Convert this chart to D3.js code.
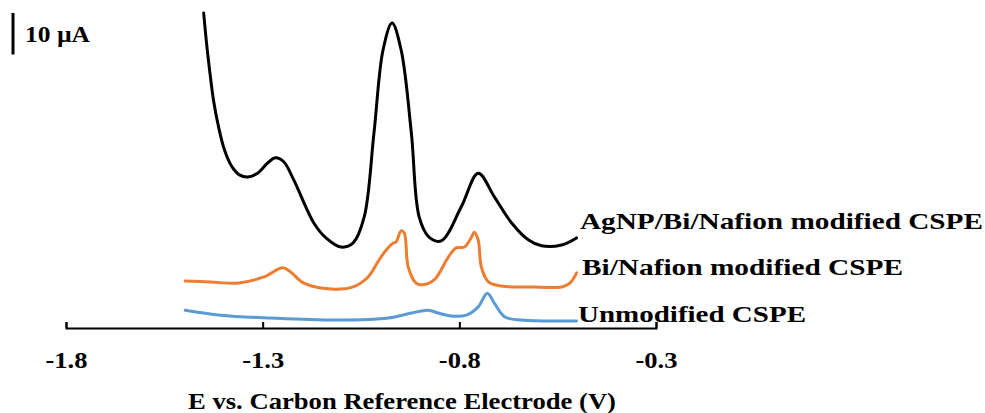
<!DOCTYPE html>
<html>
<head>
<meta charset="utf-8">
<script src="https://cdn.jsdelivr.net/npm/d3@7"></script>
<style>
  html, body { margin: 0; padding: 0; background: #fff; }
  svg text { font-family: "Liberation Serif", "Times New Roman", serif; font-weight: bold; fill: #000; }
</style>
</head>
<body>
<svg id="chart" width="985" height="413"></svg>
<script>
// Square-wave stripping voltammograms (current offset per electrode), potential in V
const agnpE = [-1.450, -1.443, -1.435, -1.425, -1.412, -1.397, -1.379, -1.359, -1.338, -1.313, -1.287, -1.267, -1.246, -1.221, -1.170, -1.139, -1.101, -1.070, -1.042, -1.017, -0.994, -0.971, -0.948, -0.922, -0.902, -0.877, -0.846, -0.795, -0.752, -0.711, -0.667, -0.624, -0.591, -0.540, -0.502];
const agnpI = [75.9, 68.9, 62.2, 54.9, 48.4, 42.9, 39.0, 36.9, 36.4, 37.3, 39.8, 41.0, 40.0, 35.7, 25.3, 21.7, 19.5, 20.5, 26.7, 47.0, 67.0, 73.5, 67.0, 47.0, 26.7, 21.9, 21.0, 29.2, 37.3, 31.6, 25.3, 21.2, 19.8, 20.0, 21.7];

const biE = [-1.497, -1.433, -1.364, -1.297, -1.249, -1.229, -1.195, -1.127, -1.070, -1.032, -1.004, -0.986, -0.968, -0.961, -0.948, -0.940, -0.930, -0.910, -0.897, -0.864, -0.828, -0.808, -0.787, -0.769, -0.762, -0.752, -0.744, -0.726, -0.693, -0.616, -0.540, -0.519, -0.502];
const biI = [11.3, 11.1, 10.8, 12.3, 14.5, 13.5, 10.8, 9.4, 9.9, 12.3, 16.4, 18.8, 20.5, 20.7, 23.4, 22.9, 14.7, 10.8, 10.4, 11.6, 17.1, 19.3, 19.5, 21.9, 23.1, 21.2, 14.7, 11.1, 10.1, 9.9, 9.9, 10.8, 13.3];

const bareE = [-1.497, -1.407, -1.280, -1.109, -0.981, -0.922, -0.879, -0.854, -0.820, -0.782, -0.752, -0.729, -0.711, -0.685, -0.642, -0.502];
const bareI = [4.3, 3.1, 2.4, 1.9, 2.4, 3.6, 4.3, 3.6, 2.9, 3.1, 5.1, 8.4, 6.0, 2.7, 1.9, 1.7];

const seriesNames = ["AgNP/Bi/Nafion modified CSPE", "Bi/Nafion modified CSPE", "Unmodified CSPE"];
const seriesColors = ["#000000", "#ED7D31", "#5B9BD5"];
const xTicks = [-1.8, -1.3, -0.8, -0.3];
const xTitle = "E vs. Carbon Reference Electrode (V)";
const scaleBarValue = 10; // µA
const scaleBarLabel = "10 µA";

const svg = d3.select("#chart");

const x = d3.scaleLinear().domain([-1.8, -0.3]).range([66, 656]);
const y = d3.scaleLinear().domain([0, 10]).range([328, 286.5]);

const series = [
  { name: seriesNames[0], color: seriesColors[0], pts: agnpE.map((e, i) => [e, agnpI[i]]), label: [580, 229], w: 403 },
  { name: seriesNames[1], color: seriesColors[1], pts: biE.map((e, i) => [e, biI[i]]), label: [582, 275], w: 321 },
  { name: seriesNames[2], color: seriesColors[2], pts: bareE.map((e, i) => [e, bareI[i]]), label: [578, 322], w: 228 }
];

const line = d3.line()
  .x(d => x(d[0]))
  .y(d => y(d[1]))
  .curve(d3.curveCatmullRom.alpha(0.5));

// x axis with ticks pointing up
const axis = d3.axisBottom(x)
  .tickValues(xTicks)
  .tickSizeInner(-6)
  .tickSizeOuter(-6)
  .tickPadding(23);

const gAxis = svg.append("g")
  .attr("transform", `translate(0,${y(0)})`)
  .call(axis);
gAxis.select(".domain").attr("stroke", "#000").attr("stroke-width", 2);
gAxis.selectAll(".tick line").attr("stroke", "#000").attr("stroke-width", 2);
gAxis.selectAll(".tick text")
  .attr("font-size", 24)
  .attr("textLength", 42)
  .attr("lengthAdjust", "spacingAndGlyphs")
  .text(d => d3.format(".1f")(d).replace("−", "-"));

svg.append("text")
  .attr("x", 402)
  .attr("y", 409)
  .attr("text-anchor", "middle")
  .attr("font-size", 23)
  .attr("textLength", 428)
  .attr("lengthAdjust", "spacingAndGlyphs")
  .text(xTitle);

// curves
svg.append("g").selectAll("path")
  .data(series)
  .join("path")
  .attr("d", d => line(d.pts))
  .attr("fill", "none")
  .attr("stroke", d => d.color)
  .attr("stroke-width", 3)
  .attr("stroke-linejoin", "round")
  .attr("stroke-linecap", "round");

// curve labels
svg.append("g").selectAll("text")
  .data(series)
  .join("text")
  .attr("x", d => d.label[0])
  .attr("y", d => d.label[1])
  .attr("font-size", 24)
  .attr("textLength", d => d.w)
  .attr("lengthAdjust", "spacingAndGlyphs")
  .text(d => d.name);

// current scale bar
const barTop = 13;
svg.append("line")
  .attr("x1", 13).attr("x2", 13)
  .attr("y1", barTop)
  .attr("y2", barTop + (y(0) - y(scaleBarValue)))
  .attr("stroke", "#000")
  .attr("stroke-width", 3);
svg.append("text")
  .attr("x", 25)
  .attr("y", 42)
  .attr("font-size", 24)
  .attr("textLength", 65)
  .attr("lengthAdjust", "spacingAndGlyphs")
  .text(scaleBarLabel);
</script>
</body>
</html>
